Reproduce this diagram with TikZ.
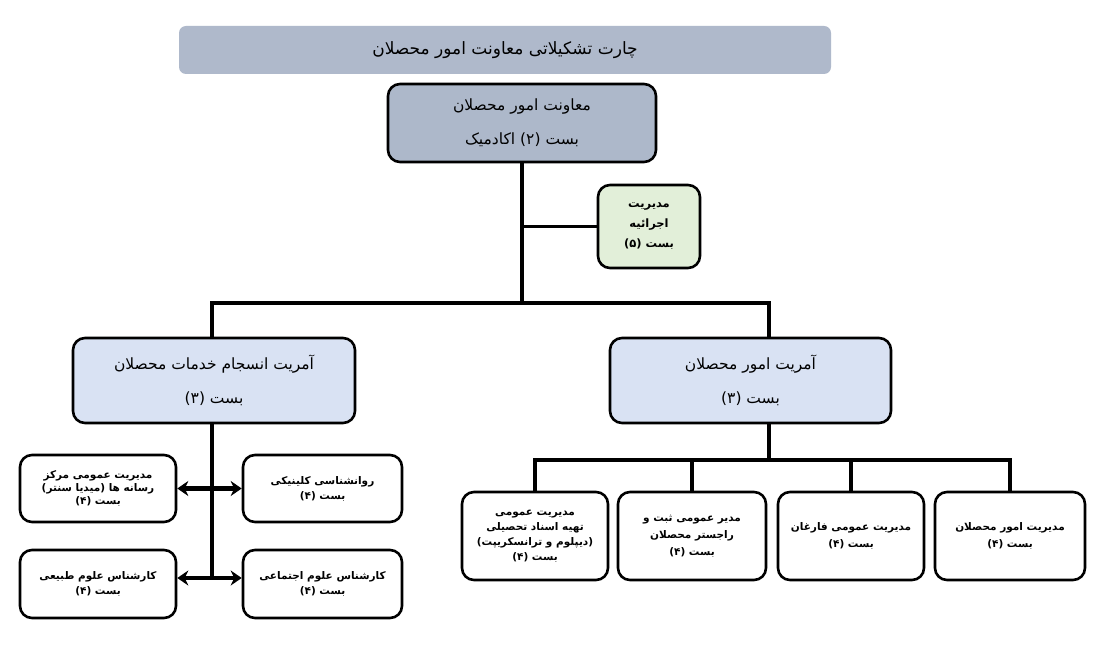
\documentclass[tikz,border=0pt]{standalone}
\usepackage{fontspec}
\newfontfamily\fa[Script=Arabic]{DejaVu Sans}
\TeXXeTstate=1
\usetikzlibrary{arrows.meta}
\definecolor{titlec}{HTML}{AFB9CB}
\definecolor{topc}{HTML}{ADB8CA}
\definecolor{greenc}{HTML}{E2EFD9}
\definecolor{bluec}{HTML}{D9E2F3}
\newcommand\rl[1]{\beginR #1\endR}
\begin{document}
\begin{tikzpicture}[x=1pt,y=-1pt,
  box/.style={draw=black, line width=2.6pt, rounded corners=12pt, align=center, inner sep=0pt},
  bigtxt/.style={font={\fa\fontsize{15.5}{34}\selectfont}},
  smalltxt/.style={font={\fa\bfseries\fontsize{10.5}{13}\selectfont}},
  conn/.style={line width=3.6pt},
  arr/.style={line width=4.2pt, {Stealth[length=11pt,width=15pt]}-{Stealth[length=11pt,width=15pt]}}
]
\useasboundingbox (0,0) rectangle (1105,652);
\fill[white] (0,0) rectangle (1105,652);

\node[fill=titlec, rounded corners=7pt, minimum width=652pt, minimum height=48pt,
  font={\fa\fontsize{17}{20}\selectfont}] (title) at (505,50) {\rl{چارت تشکیلاتی معاونت امور محصلان}};

\node[box, bigtxt, fill=topc, minimum width=268pt, minimum height=78pt] (top) at (522,123)
  {\rl{معاونت امور محصلان}\\\rl{بست (۲) اکادمیک}};

\node[box, fill=greenc, minimum width=102pt, minimum height=83pt, font={\fa\bfseries\fontsize{11.5}{20}\selectfont}] (green) at (649,226.5)
  {\rl{مدیریت}\\\rl{اجرائیه}\\\rl{بست (۵)}};

\node[box, bigtxt, fill=bluec, minimum width=282pt, minimum height=85pt] (lm) at (214,380.5)
  {\rl{آمریت انسجام خدمات محصلان}\\\rl{بست (۳)}};
\node[box, bigtxt, fill=bluec, minimum width=281pt, minimum height=85pt] (rm) at (750.5,380.5)
  {\rl{آمریت امور محصلان}\\\rl{بست (۳)}};

\node[box, smalltxt, minimum width=156pt, minimum height=67pt] (L1) at (98,488.5)
  {\rl{مدیریت عمومی مرکز}\\\rl{رسانه ها (میدیا سنتر)}\\\rl{بست (۴)}};
\node[box, smalltxt, minimum width=159pt, minimum height=67pt, font={\fa\bfseries\fontsize{10.5}{15}\selectfont}] (R1) at (322.5,488.5)
  {\rl{روانشناسی کلینیکی}\\\rl{بست (۴)}};
\node[box, smalltxt, minimum width=156pt, minimum height=68pt, font={\fa\bfseries\fontsize{10.5}{15}\selectfont}] (L2) at (98,584)
  {\rl{کارشناس علوم طبیعی}\\\rl{بست (۴)}};
\node[box, smalltxt, minimum width=159pt, minimum height=68pt, font={\fa\bfseries\fontsize{10.5}{15}\selectfont}] (R2) at (322.5,584)
  {\rl{کارشناس علوم اجتماعی}\\\rl{بست (۴)}};

\node[box, minimum width=146pt, minimum height=88pt, font={\fa\bfseries\fontsize{10.5}{15}\selectfont}] (B1) at (535,536)
  {\rl{مدیریت عمومی}\\\rl{تهیه اسناد تحصیلی}\\\rl{(دیپلوم و ترانسکریپت)}\\\rl{بست (۴)}};
\node[box, minimum width=148pt, minimum height=88pt, font={\fa\bfseries\fontsize{10.5}{17}\selectfont}] (B2) at (692,536)
  {\rl{مدیر عمومی ثبت و}\\\rl{راجستر محصلان}\\\rl{بست (۴)}};
\node[box, minimum width=146pt, minimum height=88pt, font={\fa\bfseries\fontsize{10.5}{17}\selectfont}] (B3) at (851,536)
  {\rl{مدیریت عمومی فارغان}\\\rl{بست (۴)}};
\node[box, minimum width=150pt, minimum height=88pt, font={\fa\bfseries\fontsize{10.5}{17}\selectfont}] (B4) at (1010,536)
  {\rl{مدیریت امور محصلان}\\\rl{بست (۴)}};

% connectors
\coordinate (jl) at (212,303);
\coordinate (jr) at (769,303);
\coordinate (hr) at (769,460);
\coordinate (lv) at (212,580);
\draw[conn] (top.south) -- (top.south |- jl);
\draw[conn] (top.south |- green.west) -- (green.west);
\draw[conn] ([xshift=-1.8pt]jl) -- ([xshift=1.8pt]jr);
\draw[conn] ([yshift=1.8pt]jl) -- (jl |- lm.north);
\draw[conn] ([yshift=1.8pt]jr) -- (jr |- rm.north);
\draw[conn] (jr |- rm.south) -- (hr);
\draw[conn] ([xshift=-1.8pt]B1.north |- hr) -- ([xshift=1.8pt]B4.north |- hr);
\draw[conn] ([yshift=1.8pt]B1.north |- hr) -- (B1.north);
\draw[conn] ([yshift=1.8pt]B2.north |- hr) -- (B2.north);
\draw[conn] ([yshift=1.8pt]B3.north |- hr) -- (B3.north);
\draw[conn] ([yshift=1.8pt]B4.north |- hr) -- (B4.north);
\draw[conn] (jl |- lm.south) -- (lv);
\draw[arr] (L1.east) -- (R1.west);
\draw[arr] ([yshift=6pt]L2.east) -- ([yshift=6pt]R2.west);
\end{tikzpicture}
\end{document}
